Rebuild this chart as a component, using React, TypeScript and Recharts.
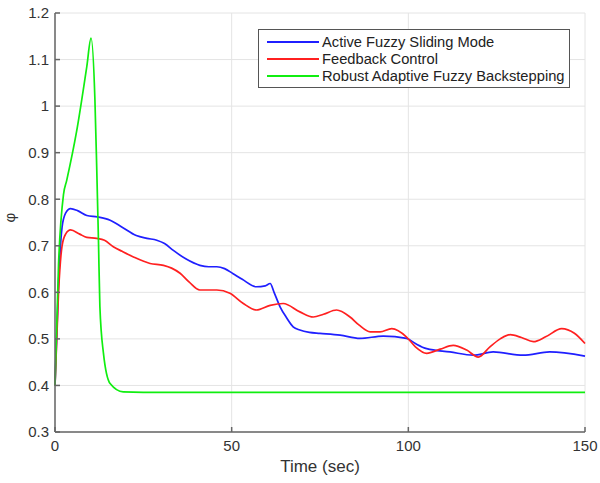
import { LineChart, Line, XAxis, YAxis, CartesianGrid } from 'recharts';

const xTicks = [0, 50, 100, 150];
const yTicks = [0.3, 0.4, 0.5, 0.6, 0.7, 0.8, 0.9, 1, 1.1, 1.2];

const fuzzySlidingT = [0, 1, 2, 3, 4.4, 6.5, 9, 12, 15.6, 19, 23, 26, 28.8, 31, 33.5, 37, 41, 43.5, 45.8, 48, 50.4, 53, 57, 59.5, 60.9, 62, 63.7, 65.5, 67.4, 69.3, 72, 75, 80.7, 86.3, 92.9, 99.5, 102, 105.2, 111.8, 118.4, 124, 132.5, 140, 150];
const fuzzySlidingV = [0.4, 0.62, 0.74, 0.77, 0.78, 0.775, 0.765, 0.762, 0.755, 0.74, 0.722, 0.716, 0.712, 0.705, 0.69, 0.672, 0.658, 0.655, 0.655, 0.651, 0.64, 0.628, 0.612, 0.614, 0.619, 0.6, 0.569, 0.546, 0.526, 0.519, 0.514, 0.512, 0.508, 0.501, 0.506, 0.501, 0.49, 0.479, 0.472, 0.465, 0.472, 0.465, 0.472, 0.463];

const feedbackT = [0, 1, 2, 3, 4.4, 7, 9, 11.8, 14, 16.5, 19, 22.2, 26.9, 30.7, 33, 35.4, 38, 41, 45.8, 49.5, 53.3, 57, 60.9, 64.6, 69.3, 73.1, 76, 79.7, 83.5, 86, 89.2, 92, 95.3, 99.5, 102, 105.2, 109, 112.7, 116.5, 119.8, 123.1, 126, 128.8, 132, 135.4, 139, 143.4, 147, 150];
const feedbackV = [0.4, 0.6, 0.7, 0.725, 0.734, 0.725, 0.718, 0.716, 0.712, 0.698, 0.688, 0.676, 0.662, 0.658, 0.652, 0.641, 0.622, 0.605, 0.605, 0.598, 0.576, 0.562, 0.572, 0.576, 0.558, 0.547, 0.553, 0.562, 0.547, 0.53, 0.515, 0.515, 0.522, 0.504, 0.483, 0.469, 0.478, 0.486, 0.476, 0.461, 0.483, 0.5, 0.509, 0.503, 0.494, 0.505, 0.522, 0.512, 0.49];

const backsteppingT = [0, 1, 2.4, 3.3, 6.1, 9, 10.2, 11.3, 11.8, 12.3, 12.7, 13.7, 15.6, 19.3, 25, 150];
const backsteppingV = [0.4, 0.66, 0.81, 0.84, 0.945, 1.085, 1.146, 1.013, 0.87, 0.712, 0.57, 0.47, 0.404, 0.386, 0.385, 0.385];

const series = [
  { name: 'Active Fuzzy Sliding Mode', color: '#1f1fff', t: fuzzySlidingT, v: fuzzySlidingV },
  { name: 'Feedback Control', color: '#ff2020', t: feedbackT, v: feedbackV },
  { name: 'Robust Adaptive Fuzzy Backstepping', color: '#10ee10', t: backsteppingT, v: backsteppingV },
];

const toPoints = (t: number[], v: number[]) => t.map((x, i) => ({ t: x, v: v[i] }));

const font = '"Liberation Sans", Arial, sans-serif';

// legend sits on top of the plot, like matlab's "northeast" box
const LegendBox = () => (
  <div
    style={{
      position: 'absolute',
      left: 258,
      top: 29,
      border: '1.5px solid #555',
      background: '#fff',
      padding: '3px 6px 3px 8px',
      fontFamily: font,
      fontSize: 14.7,
      color: '#222',
      width: 296,
    }}
  >
    {series.map((s) => (
      <div key={s.name} style={{ display: 'flex', alignItems: 'center', height: 17, whiteSpace: 'nowrap' }}>
        <span style={{ display: 'inline-block', width: 52, height: 2, background: s.color, marginRight: 3, flexShrink: 0 }} />
        <span>{s.name}</span>
      </div>
    ))}
  </div>
);

const App = () => {
  return (
    <div style={{ position: 'absolute', left: 0, top: 0, width: 600, height: 483, background: '#fff' }}>
      <LineChart width={600} height={483} margin={{ top: 13, right: 15, left: 10, bottom: 21 }}>
        <CartesianGrid stroke='#e4e4e4' strokeWidth={1} />
        <XAxis
          dataKey='t'
          type='number'
          domain={[0, 150]}
          ticks={xTicks}
          height={30}
          tickSize={-5}
          tickMargin={13}
          stroke='#666'
          strokeWidth={1.5}
          tick={{ fill: '#333', fontSize: 15, fontFamily: font }}
          allowDuplicatedCategory={false}
          label={{ value: 'Time (sec)', position: 'bottom', offset: -2, fill: '#333', fontSize: 17, fontFamily: font }}
        />
        <YAxis
          type='number'
          domain={[0.3, 1.2]}
          ticks={yTicks}
          width={45}
          tickSize={-5}
          tickMargin={11}
          stroke='#666'
          strokeWidth={1.5}
          tick={{ fill: '#333', fontSize: 15, fontFamily: font }}
          label={{ value: 'φ', angle: -90, position: 'insideLeft', offset: 0, fill: '#333', fontSize: 15, fontFamily: font }}
        />
        {series.map((s) => (
          <Line
            key={s.name}
            data={toPoints(s.t, s.v)}
            dataKey='v'
            name={s.name}
            type='monotone'
            stroke={s.color}
            strokeWidth={1.7}
            dot={false}
            isAnimationActive={false}
          />
        ))}
      </LineChart>
      <LegendBox />
    </div>
  );
};

export default App;
